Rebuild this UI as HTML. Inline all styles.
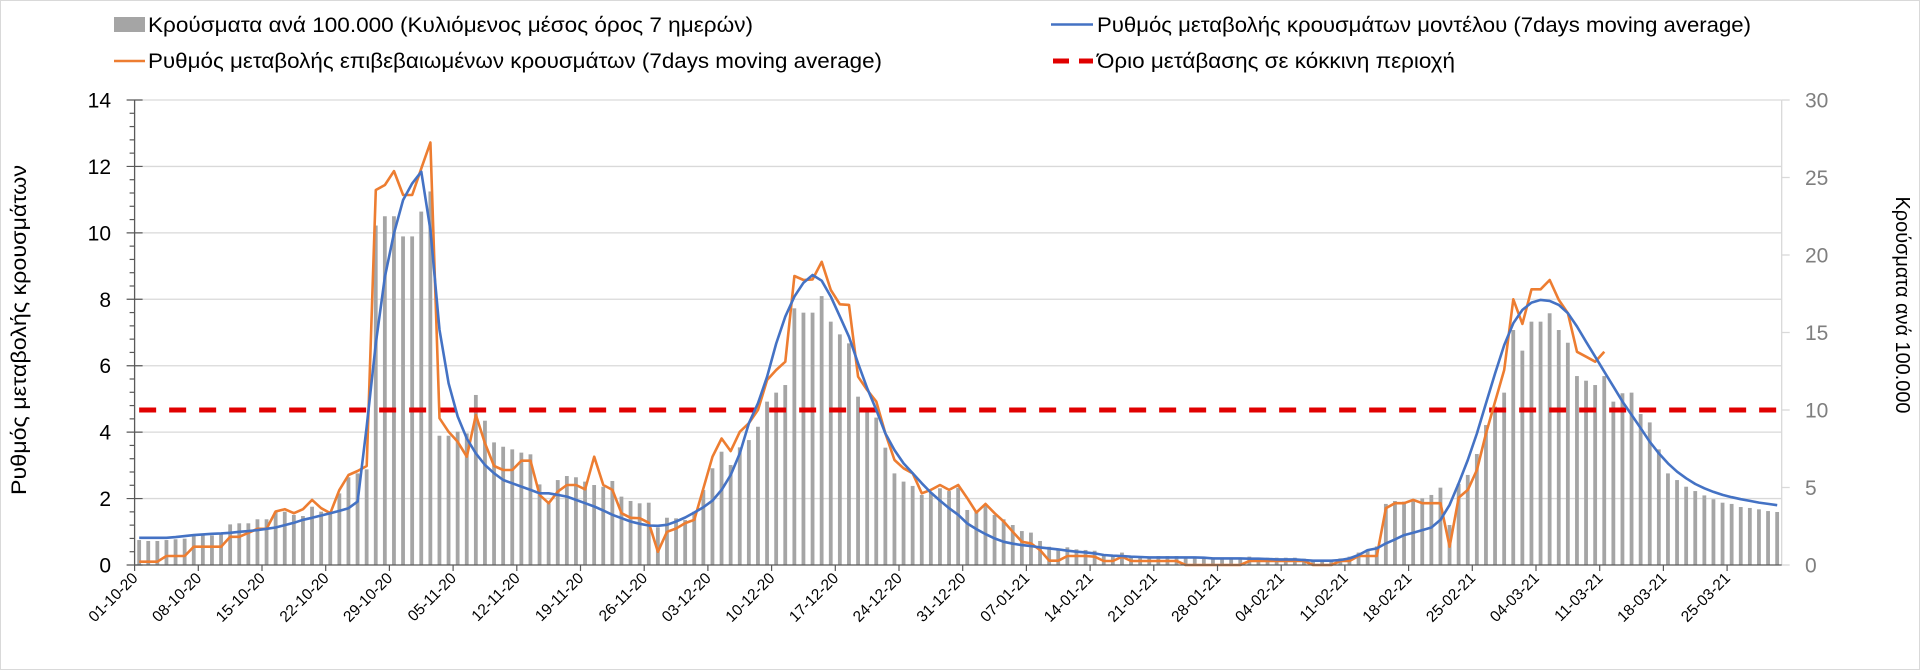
<!DOCTYPE html>
<html><head><meta charset="utf-8"><style>
html,body{margin:0;padding:0;background:#fff;}
svg{display:block;font-family:"Liberation Sans",sans-serif;}
</style></head><body>
<svg id="chart" width="1920" height="670" viewBox="0 0 1920 670">
<rect x="0.5" y="0.5" width="1919" height="669" fill="#fff" stroke="#d9d9d9"/>
<g>
 <rect x="114" y="17" width="31" height="15" fill="#a5a5a5"/>
 <text x="148" y="32" font-size="21" textLength="605" lengthAdjust="spacingAndGlyphs" fill="#000">Κρούσματα ανά 100.000 (Κυλιόμενος μέσος όρος 7 ημερών)</text>
 <line x1="1051" y1="24.5" x2="1093" y2="24.5" stroke="#4472C4" stroke-width="2.5"/>
 <text x="1097" y="32" font-size="21" textLength="654" lengthAdjust="spacingAndGlyphs" fill="#000">Ρυθμός μεταβολής κρουσμάτων μοντέλου (7days moving average)</text>
 <line x1="114" y1="61" x2="145" y2="61" stroke="#ED7D31" stroke-width="2.5"/>
 <text x="148" y="68" font-size="21" textLength="734" lengthAdjust="spacingAndGlyphs" fill="#000">Ρυθμός μεταβολής επιβεβαιωμένων κρουσμάτων (7days moving average)</text>
 <line x1="1053" y1="61" x2="1093" y2="61" stroke="#e00000" stroke-width="5" stroke-dasharray="16 10"/>
 <text x="1097" y="68" font-size="21" textLength="358" lengthAdjust="spacingAndGlyphs" fill="#000">Όριο μετάβασης σε κόκκινη περιοχή</text>
</g>
<text transform="translate(26,330) rotate(-90)" text-anchor="middle" font-size="21" fill="#000" textLength="330" lengthAdjust="spacingAndGlyphs">Ρυθμός μεταβολής κρουσμάτων</text>
<text transform="translate(1896,305) rotate(90)" text-anchor="middle" font-size="20" fill="#000" textLength="217" lengthAdjust="spacingAndGlyphs">Κρούσματα ανά 100.000</text>
<g id="plot"></g>
</svg>
<script>
const dateLabels=["01-10-20","08-10-20","15-10-20","22-10-20","29-10-20","05-11-20","12-11-20","19-11-20","26-11-20","03-12-20","10-12-20","17-12-20","24-12-20","31-12-20","07-01-21","14-01-21","21-01-21","28-01-21","04-02-21","11-02-21","18-02-21","25-02-21","04-03-21","11-03-21","18-03-21","25-03-21"];
const leftTicks=[0,2,4,6,8,10,12,14];
const rightTicks=[0,5,10,15,20,25,30];
const threshold=10;
const casesPer100k=[1.61,1.55,1.55,1.61,1.66,1.70,1.91,1.91,1.91,1.98,2.62,2.69,2.69,2.95,2.95,3.44,3.44,3.23,3.16,3.76,3.44,3.44,4.62,5.66,5.91,6.17,21.9,22.5,22.5,21.2,21.2,22.8,24.1,8.34,8.34,8.60,8.49,10.97,9.31,7.91,7.63,7.46,7.25,7.14,5.20,
3.98,5.48,5.74,5.66,5.38,5.16,5.05,5.42,4.41,4.13,3.98,4.02,2.43,3.05,3.01,2.90,3.44,4.84,6.24,7.31,6.45,7.59,8.06,8.92,10.54,11.12,11.61,16.56,16.28,16.28,17.35,15.70,14.88,14.30,10.86,10.0,9.51,7.57,5.91,5.38,5.10,4.52,4.67,4.95,4.77,4.99,
3.55,3.44,3.87,3.23,2.95,2.58,2.19,2.09,1.55,1.18,0.97,1.14,1.01,0.97,0.92,0.65,0.58,0.80,0.58,0.54,0.54,0.58,0.58,0.58,0.47,0.47,0.47,0.43,0.43,0.43,0.43,0.54,0.47,0.47,0.47,0.47,0.47,0.41,0.26,0.26,0.26,0.43,0.54,0.80,1.01,
1.2,3.94,4.13,4.09,4.13,4.30,4.52,4.99,2.58,5.23,5.81,7.16,9.03,10.22,11.12,15.16,13.83,15.70,15.70,16.24,15.16,14.34,12.19,11.89,11.61,12.19,10.54,11.08,11.12,9.74,9.20,7.46,5.91,5.48,5.05,4.77,4.49,4.24,4.02,3.94,3.74,3.68,3.59,3.48,3.42];
const confirmedRate=[0.10,0.10,0.10,0.27,0.27,0.27,0.55,0.55,0.55,0.55,0.85,0.85,0.97,1.09,1.09,1.61,1.68,1.56,1.68,1.96,1.71,1.56,2.26,2.71,2.83,2.98,11.29,11.44,11.86,11.14,11.14,11.94,12.72,4.42,4.01,3.71,3.26,4.52,3.66,2.98,2.86,2.86,3.14,3.14,2.11,
1.86,2.21,2.41,2.41,2.28,3.26,2.41,2.26,1.56,1.42,1.41,1.27,0.40,1.00,1.10,1.26,1.36,2.31,3.26,3.81,3.43,4.01,4.27,4.67,5.57,5.87,6.12,8.70,8.58,8.60,9.13,8.28,7.85,7.83,5.67,5.27,4.92,3.96,3.16,2.91,2.76,2.16,2.26,2.41,2.26,2.41,
2.01,1.58,1.84,1.56,1.31,1.00,0.70,0.65,0.45,0.13,0.13,0.27,0.27,0.27,0.25,0.12,0.12,0.25,0.12,0.12,0.12,0.12,0.12,0.12,0.0,0.0,0.0,0.0,0.0,0.0,0.0,0.12,0.12,0.12,0.12,0.12,0.12,0.12,0.0,0.0,0.0,0.12,0.12,0.27,0.27,
0.27,1.71,1.86,1.86,1.96,1.86,1.86,1.86,0.55,2.03,2.26,2.86,3.96,4.92,5.87,8.00,7.26,8.30,8.30,8.58,7.98,7.58,6.42,6.27,6.12,6.42];
const modelRate=[0.82,0.82,0.82,0.82,0.84,0.87,0.90,0.92,0.94,0.95,0.97,1.00,1.02,1.05,1.09,1.13,1.20,1.27,1.36,1.42,1.49,1.56,1.63,1.71,1.91,4.17,6.67,8.68,9.99,10.99,11.49,11.84,10.09,7.08,5.47,4.47,3.81,3.36,3.01,2.76,2.56,2.46,2.36,2.26,2.16,
2.16,2.11,2.06,1.96,1.86,1.76,1.64,1.51,1.41,1.31,1.24,1.19,1.18,1.21,1.31,1.43,1.58,1.74,1.94,2.26,2.71,3.36,4.27,4.87,5.67,6.67,7.48,8.08,8.50,8.73,8.56,8.08,7.48,6.87,6.07,5.32,4.67,3.96,3.46,3.06,2.76,2.46,2.18,1.94,1.71,1.51,
1.25,1.08,0.93,0.80,0.70,0.64,0.60,0.57,0.53,0.50,0.47,0.43,0.40,0.38,0.35,0.30,0.28,0.27,0.25,0.24,0.23,0.23,0.23,0.23,0.23,0.23,0.22,0.20,0.20,0.20,0.20,0.19,0.19,0.18,0.17,0.17,0.17,0.15,0.13,0.13,0.13,0.15,0.20,0.30,0.45,
0.50,0.65,0.77,0.90,0.97,1.05,1.13,1.36,1.81,2.46,3.16,3.96,4.87,5.77,6.62,7.28,7.68,7.90,7.98,7.95,7.83,7.58,7.18,6.72,6.27,5.82,5.37,4.92,4.52,4.12,3.71,3.36,3.06,2.81,2.61,2.44,2.31,2.20,2.11,2.04,1.98,1.93,1.88,1.84,1.80];

const NS="http://www.w3.org/2000/svg";
const plot=document.getElementById('plot');
const X0=134.6, X1=1781.7, Y0=565, YT=100;
const N=casesPer100k.length;
const dayW=(X1-X0)/N;
const xBand=i=>X0+i*dayW;
const xC=i=>X0+(i+0.5)*dayW;
const yL=v=>Y0-(v/14)*(Y0-YT);
const yR=v=>Y0-(v/30)*(Y0-YT);
function mk(tag,attrs,parent){const e=document.createElementNS(NS,tag);for(const k in attrs)e.setAttribute(k,attrs[k]);(parent||plot).appendChild(e);return e;}

// gridlines
leftTicks.forEach(t=>{if(t===0)return;
 const g=mk('line',{x1:X0,x2:X1,y1:yL(t),y2:yL(t),stroke:'#d9d9d9','stroke-width':1.3});
 
 
});
// bars
casesPer100k.forEach((v,i)=>{
 const bw=3.8;
 const r=mk('rect',{x:xC(i)-bw/2,y:yR(v),width:bw,height:Y0-yR(v),fill:'#a5a5a5'});
 
 
});
// threshold line
const th=mk('line',{x1:xC(0),x2:xC(N-1),y1:yR(threshold),y2:yR(threshold),stroke:'#e00000','stroke-width':5,'stroke-dasharray':'17 13'});


// lines
function linePath(arr){let d='';let pen=false;arr.forEach((v,i)=>{if(v==null){pen=false;return;}d+=(pen?'L':'M')+xC(i).toFixed(1)+' '+yL(v).toFixed(1);pen=true;});return d;}
const lo=mk('path',{d:linePath(confirmedRate),fill:'none',stroke:'#ED7D31','stroke-width':2.6,'stroke-linejoin':'round'});


const lb=mk('path',{d:linePath(modelRate),fill:'none',stroke:'#4472C4','stroke-width':2.6,'stroke-linejoin':'round'});


// left axis
const la=mk('line',{x1:X0,x2:X0,y1:YT,y2:Y0,stroke:'#595959','stroke-width':1.3});


for(let m=0;m<=35;m++){const v=m*0.4;const major=(m%5===0);
 const t=mk('line',{x1:X0-(major?8:5),x2:X0+(major?8:0),y1:yL(v),y2:yL(v),stroke:'#595959','stroke-width':1.2});
 
 
}
leftTicks.forEach(t=>{
 const tx=mk('text',{x:111,y:yL(t)+7.5,'text-anchor':'end','font-size':21,fill:'#000'});
 tx.textContent=t;
 
 
});
// right axis
const ra=mk('line',{x1:X1,x2:X1,y1:YT,y2:Y0,stroke:'#d9d9d9','stroke-width':1.3});


rightTicks.forEach(t=>{
 const tk=mk('line',{x1:X1,x2:X1+8,y1:yR(t),y2:yR(t),stroke:'#d9d9d9','stroke-width':1.3});
 
 
 const tx=mk('text',{x:1805,y:yR(t)+7.5,'font-size':21,fill:'#7f7f7f'});
 tx.textContent=t;
 
 
});
// x axis
const xa=mk('line',{x1:X0,x2:X1,y1:Y0,y2:Y0,stroke:'#595959','stroke-width':1.3});


dateLabels.forEach((lab,k)=>{
 const x=xBand(k*7);
 const tk=mk('line',{x1:x,x2:x,y1:Y0,y2:Y0+6,stroke:'#595959','stroke-width':1.2});
 
 
 const tx=mk('text',{x:0,y:0,'text-anchor':'end','font-size':15.5,fill:'#000',transform:`translate(${x+4},${Y0+14}) rotate(-45)`});
 tx.textContent=lab;
 
 
});
</script>
</body></html>
